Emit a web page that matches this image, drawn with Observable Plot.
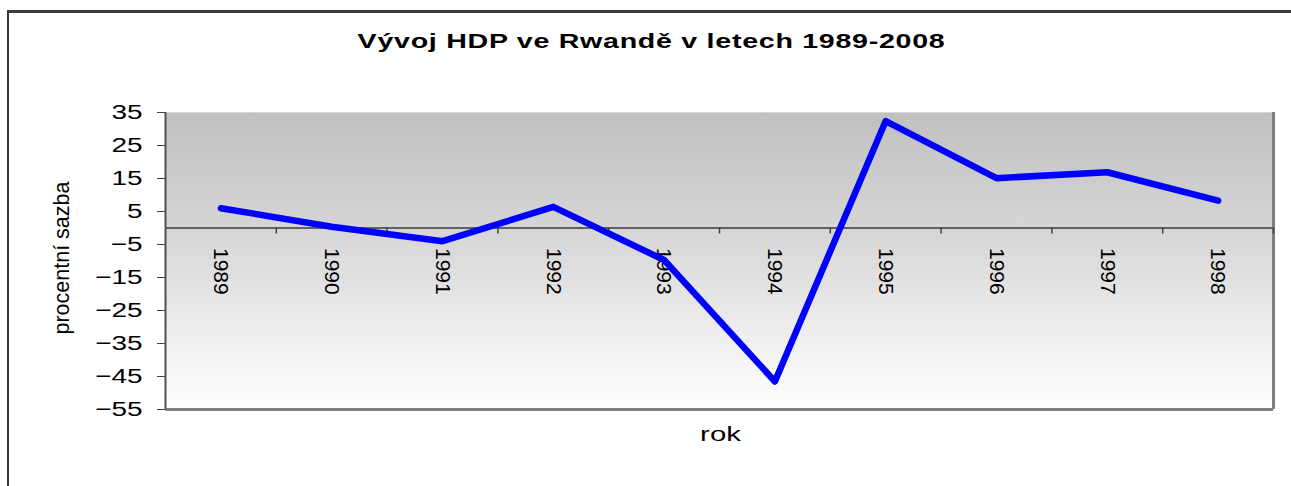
<!DOCTYPE html>
<html>
<head>
<meta charset="utf-8">
<script src="https://cdn.jsdelivr.net/npm/d3@7"></script>
<script src="https://cdn.jsdelivr.net/npm/@observablehq/plot@0.6"></script>
<style>
  html, body { margin: 0; padding: 0; background: #fff; overflow: hidden; }
  #wrap { position: relative; width: 1291px; height: 486px; overflow: hidden; }
  #border { position: absolute; left: 7px; top: 10px; width: 1400px; height: 600px;
            border-top: 3px solid #3a3a3a; border-left: 2px solid #3a3a3a; }
  #title { position: relative; height: 100px; box-sizing: border-box; padding-top: 29px; padding-left: 13px;
           text-align: center; font: bold 20px "Liberation Sans", Arial, sans-serif;
           line-height: 24px; color: #000; }
  #title span { display: inline-block; letter-spacing: 0.5px; transform: scaleX(1.43); transform-origin: center; }
  #chart { position: relative; }
</style>
</head>
<body>
<div id="wrap">
  <div id="border"></div>
  <div id="title"><span>Vývoj HDP ve Rwandě v letech 1989-2008</span></div>
  <div id="chart"></div>
</div>
<script>
const years = [1989, 1990, 1991, 1992, 1993, 1994, 1995, 1996, 1997, 1998];
const growth = [6.0, 0.4, -4.0, 6.4, -9.7, -46.5, 32.4, 15.1, 16.9, 8.3];
const yTicks = [-55, -45, -35, -25, -15, -5, 5, 15, 25, 35];
const yLabel = "procentní sazba";
const xLabel = "rok";

const data = years.map((year, i) => ({year, value: growth[i]}));
const xMin = years[0] - 0.5, xMax = years[years.length - 1] + 0.5;
const boundaries = years.slice(1).map(y => y - 0.5).concat([xMax]);

const chart = Plot.plot({
  width: 1291,
  height: 386,
  marginLeft: 165,
  marginRight: 18,
  marginTop: 12,
  marginBottom: 77,
  style: {fontFamily: "'Liberation Sans', Arial, sans-serif", fontSize: "21px", color: "#000", background: "transparent", overflow: "visible"},
  x: {domain: [xMin, xMax], axis: null},
  y: {domain: [yTicks[0], yTicks[yTicks.length - 1]], axis: null},
  marks: [
    Plot.frame({fill: "#d0d0d0", stroke: "none"}),
    Plot.ruleY([yTicks[yTicks.length - 1]], {stroke: "#d8d8d8", strokeWidth: 1}),
    Plot.ruleY([yTicks[0]], {stroke: "#808080", strokeWidth: 3}),
    Plot.ruleX([xMax], {stroke: "#808080", strokeWidth: 3}),
    Plot.ruleY([0], {stroke: "#606060", strokeWidth: 2}),
    Plot.ruleX(boundaries, {x: d => d, y1: 0, y2: 0, insetBottom: -6, stroke: "#404040", strokeWidth: 1.5}),
    Plot.axisY(yTicks, {tickSize: 8, tickPadding: 15, label: null, stroke: "#404040", fontSize: 21}),
    Plot.ruleX([xMin], {stroke: "#505050", strokeWidth: 2}),
    Plot.text(data, {x: "year", y: 0, text: d => String(d.year), rotate: 90, textAnchor: "start", dy: 20, fontSize: 21}),
    Plot.line(data, {x: "year", y: "value", stroke: "#0000ff", strokeWidth: 6.5, strokeLinecap: "round", strokeLinejoin: "round"}),
    Plot.text([yLabel], {frameAnchor: "left", textAnchor: "middle", text: d => d, rotate: -90, dx: -103, dy: -3, fontSize: 21.5}),
    Plot.text([xLabel], {frameAnchor: "bottom", textAnchor: "middle", text: d => d, dy: 31, dx: 1, fontSize: 20})
  ]
});

// horizontal stretch used by the original rendering (appended in the text's own frame)
function stretch(el, s) {
  const t = el.getAttribute("transform");
  if (t) { el.setAttribute("transform", t + ` scale(${s},1)`); return; }
  const x = parseFloat(el.getAttribute("x") || "0");
  if (!isNaN(x)) {
    el.removeAttribute("x");
    el.setAttribute("transform", `translate(${x},0) scale(${s},1)`);
  }
}
chart.querySelectorAll('[aria-label="y-axis tick label"] text').forEach(el => stretch(el, 1.33));
chart.querySelectorAll("text").forEach(el => { if (el.textContent === xLabel) stretch(el, 1.47); });

// gradient background for the plot area
const ns = "http://www.w3.org/2000/svg";
const defs = document.createElementNS(ns, "defs");
defs.innerHTML = '<linearGradient id="bg" x1="0" y1="0" x2="0" y2="1"><stop offset="0" stop-color="#c0c0c0"/><stop offset="0.4" stop-color="#d6d6d6"/><stop offset="1" stop-color="#ffffff"/></linearGradient>';
chart.insertBefore(defs, chart.firstChild);
const fr = chart.querySelector('[aria-label="frame"]');
if (fr) {
  const rect = fr.tagName.toLowerCase() === "rect" ? fr : fr.querySelector("rect");
  if (rect) rect.setAttribute("fill", "url(#bg)");
}
document.getElementById("chart").appendChild(chart);
</script>
</body>
</html>
